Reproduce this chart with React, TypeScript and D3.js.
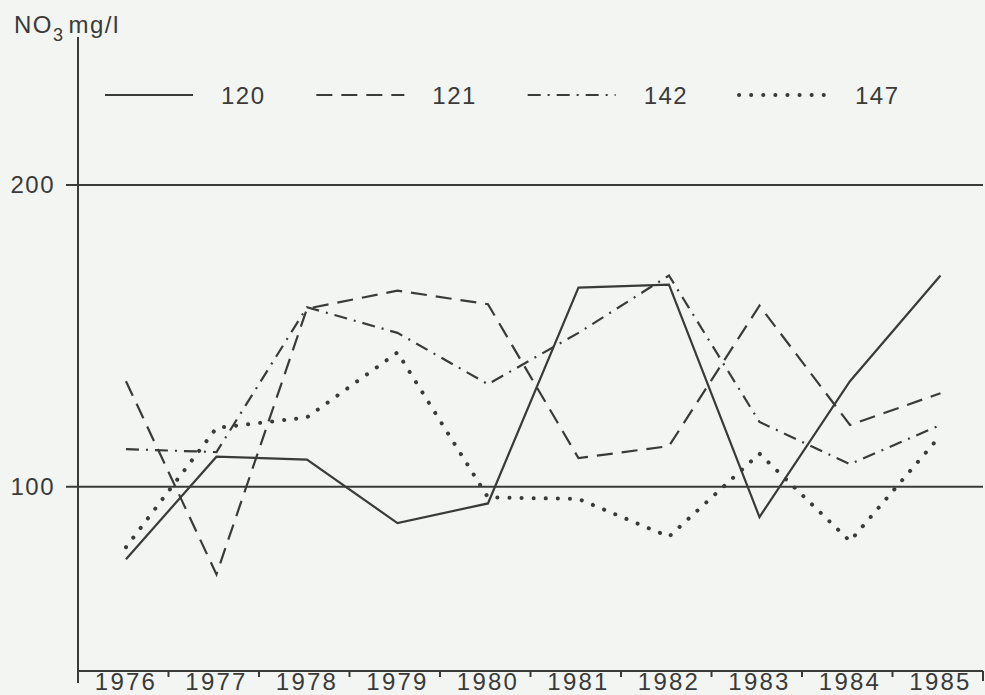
import React from "react";
import * as d3 from "d3";

// Nitrate concentration (NO3 mg/l) at four wells, 1976–1985
const years = ["1976", "1977", "1978", "1979", "1980", "1981", "1982", "1983", "1984", "1985"];
const well120 = [76, 110, 109, 88, 94.5, 166, 167, 90, 135, 170];
const well121 = [135, 71, 159, 165, 160.5, 109.5, 113.5, 160, 120.5, 131];
const well142 = [112.5, 111.5, 159.5, 151, 134, 151, 170, 121.5, 107.5, 120.5];
const well147 = [80, 119.5, 123, 144.5, 96.5, 96, 83.5, 111, 82, 117];
const seriesNames = ["120", "121", "142", "147"];
const yTicks = [100, 200];

const W = 985;
const H = 695;
const ink = "#3a3a3a";
const paper = "#f2f5f1";
const font = "'Liberation Sans', Arial, Helvetica, sans-serif";

const styles = [
  { dash: undefined, width: 2.2, cap: "butt" },
  { dash: "16 9", width: 2.2, cap: "butt" },
  { dash: "13 7 2 7", width: 2.2, cap: "butt" },
  { dash: "0.1 12", width: 4, cap: "round" },
];

export default function App() {
  const left = 78;
  const right = 983;
  const bottom = 671;
  const top = 37;

  const x = d3.scaleBand<string>().domain(years).range([left, right]).paddingInner(0).paddingOuter(0);
  const cx = (yr: string) => (x(yr) as number) + x.bandwidth() * 0.53;
  const y = d3.scaleLinear().domain([39, 249]).range([bottom, top]);

  const all = [well120, well121, well142, well147];
  const line = d3
    .line<number>()
    .x((_, i) => cx(years[i]))
    .y((v) => y(v));

  const legendX = d3.scalePoint<string>().domain(seriesNames).range([105, 739]);
  const legendY = 95;

  return (
    <svg
      width={W}
      height={H}
      style={{ position: "fixed", left: 0, top: 0, background: paper }}
      fontFamily={font}
    >
      <rect x={0} y={0} width={W} height={H} fill={paper} />

      {/* Unit label */}
      <text x={14} y={33} fontSize={24} fill={ink} letterSpacing={1.5}>
        NO
        <tspan fontSize={18} dy={8}>3</tspan>
        <tspan dx={4} dy={-8}>mg/l</tspan>
      </text>

      {/* y axis */}
      <line x1={left} x2={left} y1={top} y2={683} stroke={ink} strokeWidth={2} />
      {yTicks.map((t) => (
        <g key={t}>
          <line x1={left - 12} x2={right} y1={y(t)} y2={y(t)} stroke={ink} strokeWidth={2} />
          <text
            x={55}
            y={y(t)}
            textAnchor="end"
            dominantBaseline="central"
            fontSize={24}
            letterSpacing={1.5}
            fill={ink}
          >
            {t}
          </text>
        </g>
      ))}

      {/* x axis with separators between years */}
      <line x1={left} x2={right} y1={bottom} y2={bottom} stroke={ink} strokeWidth={2} />
      {years.slice(1).map((yr) => (
        <line
          key={yr}
          x1={x(yr) as number}
          x2={x(yr) as number}
          y1={bottom}
          y2={bottom + 6}
          stroke={ink}
          strokeWidth={2}
        />
      ))}
      <line x1={right} x2={right} y1={bottom} y2={bottom + 10} stroke={ink} strokeWidth={2} />
      {years.map((yr) => (
        <text
          key={yr}
          x={cx(yr)}
          y={690}
          textAnchor="middle"
          fontSize={24}
          letterSpacing={2.2}
          fill={ink}
        >
          {yr}
        </text>
      ))}

      {/* series */}
      {all.map((vals, i) => (
        <path
          key={seriesNames[i]}
          d={line(vals) as string}
          fill="none"
          stroke={ink}
          strokeWidth={styles[i].width}
          strokeDasharray={styles[i].dash}
          strokeLinecap={styles[i].cap as any}
          strokeLinejoin="miter"
        />
      ))}

      {/* legend */}
      {seriesNames.map((name, i) => {
        const lx = legendX(name) as number;
        return (
          <g key={name}>
            <line
              x1={lx}
              x2={lx + 88}
              y1={legendY}
              y2={legendY}
              stroke={ink}
              strokeWidth={styles[i].width}
              strokeDasharray={styles[i].dash}
              strokeLinecap={styles[i].cap as any}
            />
            <text
              x={lx + 116}
              y={legendY}
              dominantBaseline="central"
              fontSize={24}
              letterSpacing={1.5}
              fill={ink}
            >
              {name}
            </text>
          </g>
        );
      })}
    </svg>
  );
}
